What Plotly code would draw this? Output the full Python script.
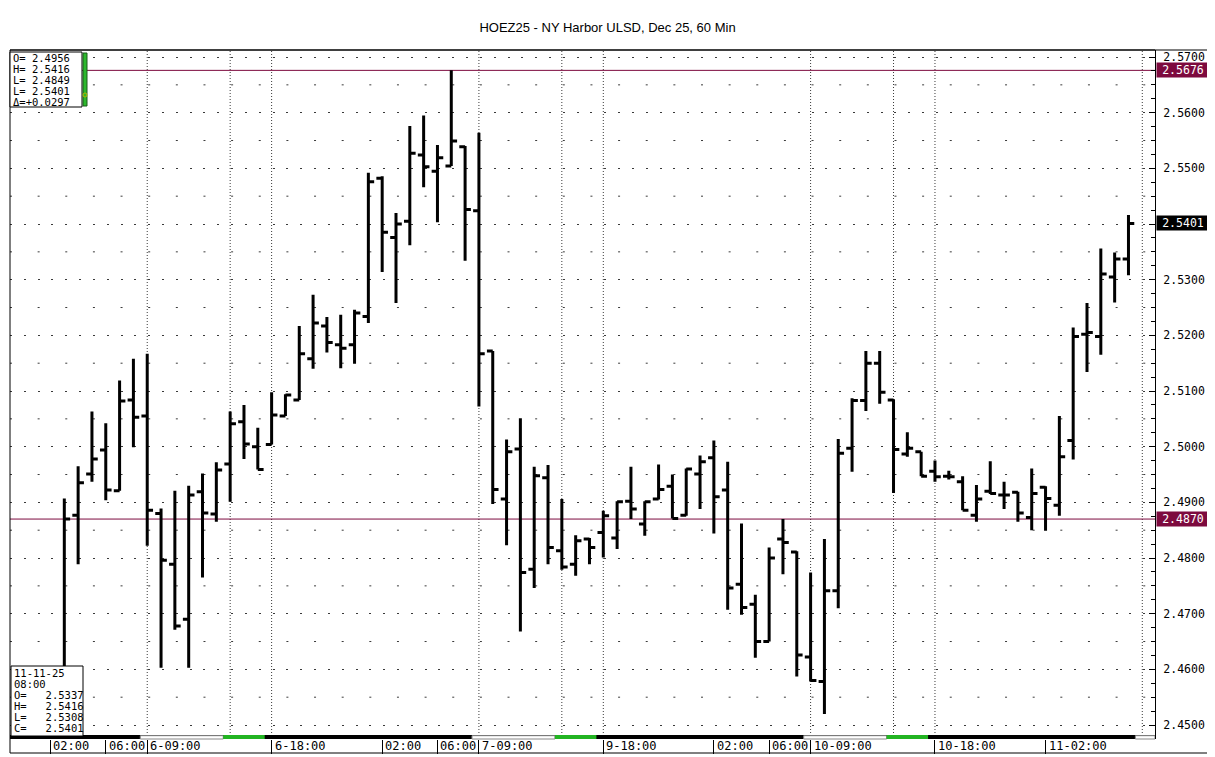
import numpy as np
import pandas as pd
import plotly.graph_objects as go

# ---------------- data ----------------
title_text = "HOEZ25 - NY Harbor ULSD, Dec 25, 60 Min"

seg1 = pd.date_range("2025-11-06 03:00", "2025-11-07 17:00", freq="h")
seg2 = pd.date_range("2025-11-09 18:00", "2025-11-11 08:00", freq="h")
times = list(seg1) + list(seg2)

opens = [2.4600, 2.4877, 2.4951, 2.4994, 2.4921, 2.5084, 2.5055, 2.4880, 2.4789, 2.4690,
         2.4919, 2.4879, 2.4969, 2.5045, 2.5000, 2.5004, 2.5055, 2.5084, 2.5158, 2.5217,
         2.5183, 2.5183, 2.5234, 2.5482, 2.5376, 2.5405, 2.5524, 2.5495, 2.5504, 2.5539,
         2.5424, 2.5172, 2.4906, 2.4996, 2.4780, 2.4944, 2.4813, 2.4789, 2.4834, 2.4846,
         2.4836, 2.4902, 2.4861, 2.4906, 2.4929, 2.4877, 2.4951, 2.4980, 2.4922, 2.4753,
         2.4717, 2.4650, 2.4834, 2.4811, 2.4622, 2.4578, 2.4741, 2.4997, 2.5083, 2.5150,
         2.5084, 2.4987, 2.4991, 2.4956, 2.4947, 2.4937, 2.4877, 2.4920, 2.4913, 2.4918,
         2.4873, 2.4927, 2.4895, 2.5011, 2.5202, 2.5198, 2.5305, 2.5337]
highs = [2.4907, 2.4965, 2.5063, 2.5042, 2.5119, 2.5158, 2.5167, 2.4889, 2.4921, 2.4930,
         2.4952, 2.4972, 2.5063, 2.5075, 2.5034, 2.5098, 2.5094, 2.5217, 2.5273, 2.5233,
         2.5237, 2.5246, 2.5492, 2.5486, 2.5420, 2.5576, 2.5595, 2.5542, 2.5676, 2.5540,
         2.5564, 2.5172, 2.5013, 2.5051, 2.4964, 2.4967, 2.4906, 2.4841, 2.4836, 2.4885,
         2.4902, 2.4964, 2.4902, 2.4968, 2.4950, 2.4961, 2.4984, 2.5011, 2.4973, 2.4862,
         2.4734, 2.4819, 2.4870, 2.4812, 2.4774, 2.4834, 2.5014, 2.5087, 2.5172, 2.5172,
         2.5085, 2.5026, 2.4991, 2.4975, 2.4957, 2.4947, 2.4931, 2.4974, 2.4937, 2.4919,
         2.4961, 2.4929, 2.5055, 2.5214, 2.5258, 2.5356, 2.5349, 2.5416]
lows = [2.4585, 2.4789, 2.4937, 2.4904, 2.4921, 2.4999, 2.4822, 2.4603, 2.4671, 2.4603,
        2.4765, 2.4865, 2.4901, 2.4978, 2.4959, 2.5004, 2.5055, 2.5084, 2.5140, 2.5169,
        2.5141, 2.5149, 2.5222, 2.5314, 2.5258, 2.5362, 2.5466, 2.5403, 2.5504, 2.5334,
        2.5072, 2.4897, 2.4823, 2.4668, 2.4746, 2.4789, 2.4779, 2.4768, 2.4789, 2.4801,
        2.4816, 2.4870, 2.4840, 2.4905, 2.4871, 2.4876, 2.4888, 2.4844, 2.4707, 2.4698,
        2.4621, 2.4650, 2.4771, 2.4587, 2.4578, 2.4520, 2.4710, 2.4955, 2.5064, 2.5077,
        2.4917, 2.4982, 2.4947, 2.4937, 2.4941, 2.4886, 2.4865, 2.4915, 2.4888, 2.4865,
        2.4850, 2.4849, 2.4876, 2.4977, 2.5134, 2.5165, 2.5259, 2.5308]
closes = [2.4870, 2.4935, 2.4978, 2.4922, 2.5082, 2.5053, 2.4886, 2.4796, 2.4678, 2.4913,
          2.4881, 2.4958, 2.5041, 2.5005, 2.4959, 2.5057, 2.5093, 2.5167, 2.5222, 2.5187,
          2.5177, 2.5240, 2.5476, 2.5385, 2.5400, 2.5527, 2.5503, 2.5519, 2.5549, 2.5426,
          2.5167, 2.4923, 2.4991, 2.4774, 2.4948, 2.4819, 2.4784, 2.4831, 2.4819, 2.4876,
          2.4901, 2.4888, 2.4901, 2.4923, 2.4871, 2.4960, 2.4973, 2.4910, 2.4746, 2.4711,
          2.4650, 2.4800, 2.4828, 2.4626, 2.4580, 2.4741, 2.4988, 2.5083, 2.5150, 2.5098,
          2.4995, 2.4997, 2.4947, 2.4946, 2.4946, 2.4886, 2.4906, 2.4916, 2.4913, 2.4881,
          2.4916, 2.4907, 2.4982, 2.5198, 2.5205, 2.5310, 2.5337, 2.5401]

tick_times = ["2025-11-06 02:00", "2025-11-06 06:00", "2025-11-06 09:00", "2025-11-06 18:00",
              "2025-11-07 02:00", "2025-11-07 06:00", "2025-11-07 09:00", "2025-11-09 18:00",
              "2025-11-10 02:00", "2025-11-10 06:00", "2025-11-10 09:00", "2025-11-10 18:00",
              "2025-11-11 02:00"]
tick_labels = ["02:00", "06:00", "6-09:00", "6-18:00", "02:00", "06:00", "7-09:00",
               "9-18:00", "02:00", "06:00", "10-09:00", "10-18:00", "11-02:00"]

ref_levels = [2.5676, 2.4870]
session_box = ["O= 2.4956", "H= 2.5416", "L= 2.4849", "L= 2.5401", "Δ=+0.0297"]
day_session_dates = ["2025-11-06", "2025-11-07", "2025-11-10", "2025-11-11"]

# ---------------- geometry helpers (reference pixel coords) ----------------
OFF = 8                      # browser body margin
W, H = 1215 - OFF, 757 - OFF
PL, PT, PR, PB = 10, 50, 1155, 739
PW, PH = PR - PL, PB - PT


def pxx(x):
    return (x - PL) / PW


def pxy(y):
    return 1 - (y - PT) / PH


def pos(ts):
    ts = pd.Timestamp(ts)
    if ts < seg2[0]:
        return (ts - seg1[0]).total_seconds() / 3600
    return len(seg1) + (ts - seg2[0]).total_seconds() / 3600


x = np.arange(len(times))
xrange_ = [-3.93, 78.92]
yrange_ = [2.44749, 2.57126]

MAROON = "#7d0a3e"
DOT = "#3a3a3a"
MONO = "DejaVu Sans Mono"

fig = go.Figure()
fig.add_trace(go.Ohlc(
    x=x, open=opens, high=highs, low=lows, close=closes,
    increasing=dict(line=dict(color="black", width=3)),
    decreasing=dict(line=dict(color="black", width=3)),
    tickwidth=0.42, showlegend=False,
    text=[t.strftime("%m-%d %H:%M") for t in times], hoverinfo="text+y",
))

shapes = []
# half-step dotted grid rows
for lvl in np.arange(2.455, 2.57, 0.01):
    shapes.append(dict(type="line", xref="paper", yref="y", x0=0, x1=1, y0=lvl, y1=lvl,
                       line=dict(color=DOT, width=1, dash="2px,25.64px"), layer="between"))
# session dotted vertical lines
vlines = [pos(t) for t in times if t.hour in (9, 15, 18)] + [pos(times[-1] + pd.Timedelta(hours=1))]
for v in vlines:
    shapes.append(dict(type="line", xref="x", yref="paper", x0=v, x1=v, y0=0, y1=1,
                       line=dict(color=DOT, width=1, dash="1px,2px"), layer="between"))
# reference levels
for lvl in ref_levels:
    shapes.append(dict(type="line", xref="paper", yref="y", x0=0, x1=1, y0=lvl, y1=lvl,
                       line=dict(color=MAROON, width=1), layer="between"))

# session strip at bottom
sy0, sy1 = 0, 4 / PH
shapes.append(dict(type="rect", xref="paper", yref="paper", x0=0, x1=1, y0=sy0, y1=sy1,
                   fillcolor="black", line=dict(width=0), layer="above"))
for d in day_session_dates:
    a = pos(d + " 09:00") - 0.5
    b = min(pos(d + " 15:00") - 0.5, xrange_[1])
    c = min(pos(d + " 18:00") - 0.5, xrange_[1])
    shapes.append(dict(type="rect", xref="x", yref="paper", x0=a, x1=b, y0=sy0, y1=sy1 - 0.001,
                       fillcolor="white", line=dict(color="#888888", width=1), layer="above"))
    if c > b:
        shapes.append(dict(type="rect", xref="x", yref="paper", x0=b, x1=c, y0=sy0, y1=sy1,
                           fillcolor="#22b422", line=dict(width=0), layer="above"))

# outer frame
shapes.append(dict(type="rect", xref="paper", yref="paper", x0=0, x1=pxx(1208), y0=pxy(753), y1=1,
                   line=dict(color="black", width=1), fillcolor="rgba(0,0,0,0)", layer="above"))
shapes.append(dict(type="line", xref="paper", yref="paper", x0=0, x1=1, y0=1, y1=1,
                   line=dict(color="black", width=1), layer="above"))

# info boxes
shapes.append(dict(type="rect", xref="paper", yref="paper", x0=pxx(10), x1=pxx(82), y0=pxy(107), y1=pxy(52),
                   fillcolor="white", line=dict(color="black", width=1), layer="above"))
shapes.append(dict(type="rect", xref="paper", yref="paper", x0=pxx(83), x1=pxx(87), y0=pxy(106), y1=pxy(53),
                   fillcolor="#2db82d", line=dict(color="#1a5a1a", width=1), layer="above"))
shapes.append(dict(type="circle", xref="paper", yref="paper", x0=pxx(83), x1=pxx(87), y0=pxy(97), y1=pxy(93),
                   fillcolor="#2db82d", line=dict(color="#b8b000", width=1), layer="above"))
shapes.append(dict(type="rect", xref="paper", yref="paper", x0=pxx(11), x1=pxx(83), y0=pxy(736), y1=pxy(666),
                   fillcolor="white", line=dict(color="black", width=1), layer="above"))

annotations = []
for i, line in enumerate(session_box):
    annotations.append(dict(xref="paper", yref="paper", x=pxx(12), y=pxy(58 + 11 * i),
                            xanchor="left", yanchor="middle", showarrow=False, text=line,
                            font=dict(family=MONO, size=10.5, color="black"), borderpad=0))
last = times[-1]
bottom_lines = [last.strftime("%m-%d-%y"), last.strftime("%H:%M"),
                f"O=   {opens[-1]:.4f}", f"H=   {highs[-1]:.4f}",
                f"L=   {lows[-1]:.4f}", f"C=   {closes[-1]:.4f}"]
for i, line in enumerate(bottom_lines):
    annotations.append(dict(xref="paper", yref="paper", x=pxx(12.5), y=pxy(672.5 + 11 * i),
                            xanchor="left", yanchor="middle", showarrow=False, text=line,
                            font=dict(family=MONO, size=10.5, color="black"), borderpad=0))
# x-axis labels, to the right of each separator tick
for t, lab in zip(tick_times, tick_labels):
    annotations.append(dict(xref="x", yref="paper", x=pos(t), y=pxy(746), xanchor="left",
                            yanchor="middle", xshift=2, showarrow=False, text=lab,
                            font=dict(family=MONO, size=12, color="black"), borderpad=0))
# price flags
for lvl, col in [(ref_levels[0], MAROON), (ref_levels[1], MAROON), (closes[-1], "black")]:
    annotations.append(dict(xref="paper", yref="y", x=1, y=lvl, xanchor="left", yanchor="middle",
                            xshift=1, showarrow=False, text=f"{lvl:.4f}", bgcolor=col,
                            width=52, height=14, borderpad=0, align="center",
                            font=dict(family=MONO, size=11.5, color="white")))

fig.update_layout(
    width=W, height=H,
    margin=dict(l=PL - OFF, r=1215 - PR, t=PT - OFF, b=757 - PB),
    paper_bgcolor="white", plot_bgcolor="white",
    title=dict(text=title_text, x=0.5 - OFF / (2 * W), xref="container", xanchor="center",
               y=1 - (27 - OFF) / H, yref="container", yanchor="middle",
               font=dict(family="Liberation Sans", size=13, color="black")),
    xaxis=dict(range=xrange_, rangeslider=dict(visible=False), showgrid=False, zeroline=False,
               showline=False, tickmode="array", tickvals=[pos(t) for t in tick_times],
               ticks="outside", ticklen=14, tickcolor="black", tickwidth=1,
               showticklabels=False),
    yaxis=dict(range=yrange_, side="right", dtick=0.01, tick0=2.45, tickformat=".4f",
               ticks="inside", ticklen=6, tickcolor="black", showline=True, linecolor="black",
               linewidth=1, showgrid=True, gridcolor=DOT, gridwidth=1, griddash="2px,11.82px",
               zeroline=False, ticklabelstandoff=5,
               tickfont=dict(family=MONO, size=11.5, color="black"),
               minor=dict(dtick=0.0025, ticks="inside", ticklen=4, tickcolor="black", showgrid=False)),
    shapes=shapes, annotations=annotations, hovermode="closest",
)

fig.write_html("out.html")
